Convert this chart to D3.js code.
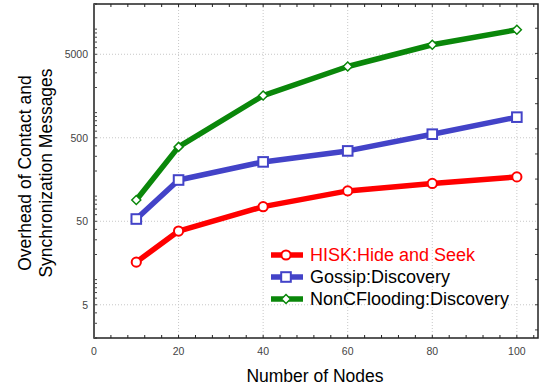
<!DOCTYPE html>
<html>
<head>
<meta charset="utf-8">
<script src="https://cdn.jsdelivr.net/npm/d3@7"></script>
<style>
  body { margin: 0; background: #fff; }
  text { font-family: "Liberation Sans", Arial, sans-serif; }
</style>
</head>
<body>
<div id="chart"></div>
<script>
// data
var nodes = [10, 20, 40, 60, 80, 100];
var hisk = [16.2, 38.2, 74.8, 115.5, 141.8, 170];
var gossip = [53.2, 156, 257, 348, 552, 883];
var flooding = [90, 389, 1602, 3571, 6500, 9840];
var xTicks = [0, 20, 40, 60, 80, 100];
var yTicks = [5, 50, 500, 5000];
var seriesNames = ["HISK:Hide and Seek", "Gossip:Discovery", "NonCFlooding:Discovery"];

(function () {
    "use strict";

    const width = 543, height = 387,
          pLeft = 94, pRight = 538, pTop = 4, pBottom = 338;

    var svg = d3.select("#chart").append("svg")
        .attr("width", width)
        .attr("height", height);

    var x = d3.scaleLinear().domain([0, 105]).range([pLeft, pRight]);
    var y = d3.scaleLog().domain([2, 20000]).range([pBottom, pTop]);

    // grid
    svg.selectAll(".gx").data(xTicks.slice(1)).enter().append("line")
        .attr("x1", function (d) { return x(d); }).attr("x2", function (d) { return x(d); })
        .attr("y1", pTop).attr("y2", pBottom)
        .attr("stroke", "#c8c8c8").attr("stroke-dasharray", "1,2");
    svg.selectAll(".gy").data(yTicks).enter().append("line")
        .attr("x1", pLeft).attr("x2", pRight)
        .attr("y1", function (d) { return y(d); }).attr("y2", function (d) { return y(d); })
        .attr("stroke", "#c8c8c8").attr("stroke-dasharray", "1,2");

    // minor ticks, pointing inward
    var xMinor = d3.range(0, 105, 4);
    svg.selectAll(".tb").data(xMinor).enter().append("line")
        .attr("x1", function (d) { return x(d); }).attr("x2", function (d) { return x(d); })
        .attr("y1", pBottom).attr("y2", pBottom - 3)
        .attr("stroke", "#222");
    svg.selectAll(".tt").data(xMinor).enter().append("line")
        .attr("x1", function (d) { return x(d); }).attr("x2", function (d) { return x(d); })
        .attr("y1", pTop).attr("y2", pTop + 3)
        .attr("stroke", "#222");

    var yMinor = y.ticks().filter(function (d) { return d >= 2 && d <= 20000; });
    svg.selectAll(".tl").data(yMinor).enter().append("line")
        .attr("x1", pLeft).attr("x2", pLeft + 3)
        .attr("y1", function (d) { return y(d); }).attr("y2", function (d) { return y(d); })
        .attr("stroke", "#444");

    var yRight = d3.range(-1, 13).map(function (k) { return 5 * Math.pow(2, k); })
        .filter(function (d) { return d > 2 && d < 20000; });
    svg.selectAll(".tr").data(yRight).enter().append("line")
        .attr("x1", pRight - 3).attr("x2", pRight)
        .attr("y1", function (d) { return y(d); }).attr("y2", function (d) { return y(d); })
        .attr("stroke", "#444");

    // frame
    svg.append("rect")
        .attr("x", pLeft).attr("y", pTop)
        .attr("width", pRight - pLeft).attr("height", pBottom - pTop)
        .attr("fill", "none").attr("stroke", "#222").attr("stroke-width", 1.5);
    svg.append("line")
        .attr("x1", pLeft).attr("x2", pLeft)
        .attr("y1", pTop).attr("y2", pBottom)
        .attr("stroke", "#555").attr("stroke-width", 2);

    // tick labels
    svg.selectAll(".lx").data(xTicks).enter().append("text")
        .attr("x", function (d) { return x(d); })
        .attr("y", 355)
        .attr("text-anchor", "middle")
        .style("font-size", "10.5px")
        .style("fill", "#444")
        .text(function (d) { return d; });
    svg.selectAll(".ly").data(yTicks).enter().append("text")
        .attr("x", 88)
        .attr("y", function (d) { return y(d) + 4; })
        .attr("text-anchor", "end")
        .style("font-size", "10.5px")
        .style("fill", "#444")
        .text(function (d) { return d; });

    // axis titles
    svg.append("text")
        .attr("x", 315)
        .attr("y", 382)
        .attr("text-anchor", "middle")
        .style("font-size", "17.5px")
        .text("Number of Nodes");
    var yTitle = svg.append("text")
        .attr("transform", "translate(31," + ((pTop + pBottom) / 2 + 2) + ") rotate(-90)")
        .attr("text-anchor", "middle")
        .style("font-size", "17.5px");
    yTitle.append("tspan").attr("x", 0).attr("dy", 0).text("Overhead of Contact and");
    yTitle.append("tspan").attr("x", 0).attr("dy", 21).text("Synchronization Messages");

    // series
    var series = [
        {name: seriesNames[0], values: hisk, color: "#ff0000", marker: "circle", text: "#ff0000"},
        {name: seriesNames[1], values: gossip, color: "#4343c8", marker: "square", text: "#000"},
        {name: seriesNames[2], values: flooding, color: "#0a870a", marker: "diamond", text: "#000"}
    ];

    var line = d3.line()
        .x(function (d) { return x(d[0]); })
        .y(function (d) { return y(d[1]); });

    function drawMarker(g, type, color) {
        if (type === "circle") {
            g.append("circle").attr("r", 4.6)
                .attr("fill", "#fff").attr("stroke", color).attr("stroke-width", 2);
        } else if (type === "square") {
            g.append("rect").attr("x", -4.8).attr("y", -4.8).attr("width", 9.6).attr("height", 9.6)
                .attr("fill", "#fff").attr("stroke", color).attr("stroke-width", 2);
        } else {
            g.append("path").attr("d", "M0,-4.5L4.5,0L0,4.5L-4.5,0Z")
                .attr("fill", "#fff").attr("stroke", color).attr("stroke-width", 1.5);
        }
    }

    series.slice().reverse().forEach(function (s) {
        var pts = nodes.map(function (n, i) { return [n, s.values[i]]; });
        svg.append("path")
            .datum(pts)
            .attr("d", line)
            .attr("fill", "none")
            .attr("stroke", s.color)
            .attr("stroke-width", 5.5)
            .attr("stroke-linejoin", "round");
        pts.forEach(function (p) {
            var g = svg.append("g").attr("transform", "translate(" + x(p[0]) + "," + y(p[1]) + ")");
            drawMarker(g, s.marker, s.color);
        });
    });

    // legend
    var legend = svg.append("g").attr("transform", "translate(271,255)");
    series.forEach(function (s, i) {
        var row = legend.append("g").attr("transform", "translate(0," + (i * 22) + ")");
        row.append("line").attr("x1", 0).attr("x2", 32).attr("y1", 0).attr("y2", 0)
            .attr("stroke", s.color).attr("stroke-width", 5.5);
        var m = row.append("g").attr("transform", "translate(15,0)");
        drawMarker(m, s.marker, s.color);
        row.append("text")
            .attr("x", 39).attr("y", 6)
            .style("font-size", "18px")
            .style("fill", s.text)
            .text(s.name);
    });
})();
</script>
</body>
</html>
